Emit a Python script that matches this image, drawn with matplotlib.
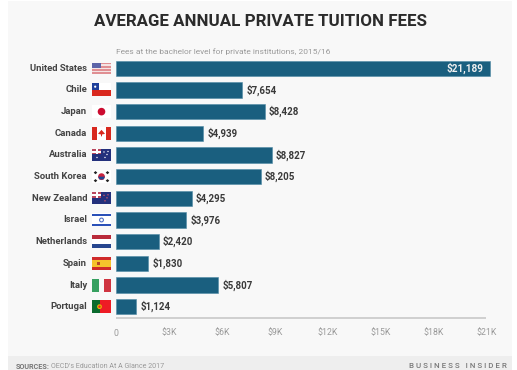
import matplotlib
matplotlib.use("Agg")
import matplotlib.pyplot as plt
from matplotlib.patches import Rectangle, Circle, Polygon

plt.rcParams['font.family'] = ['Roboto', 'DejaVu Sans']

countries = ["United States", "Chile", "Japan", "Canada", "Australia", "South Korea",
             "New Zealand", "Israel", "Netherlands", "Spain", "Italy", "Portugal"]
# printed value labels
fees = [21189, 7654, 8428, 4939, 8827, 8205, 4295, 3976, 2420, 1830, 5807, 1124]
# bar lengths as drawn in the picture (the Chile bar is shorter than its printed label)
bar_lengths = [21189, 7150, 8428, 4939, 8827, 8205, 4295, 3976, 2420, 1830, 5807, 1150]
tick_values = [0, 3000, 6000, 9000, 12000, 15000, 18000, 21000]
tick_labels = ["0", "$3K", "$6K", "$9K", "$12K", "$15K", "$18K", "$21K"]
title = "AVERAGE ANNUAL PRIVATE TUITION FEES"
subtitle = "Fees at the bachelor level for private institutions, 2015/16"

W, H = 517, 370
BAR = "#1a5f7f"
fig = plt.figure(figsize=(W / 100, H / 100), dpi=100, facecolor="white")

# page in pixel coordinates
pg = fig.add_axes([0, 0, 1, 1], zorder=0)
pg.set_xlim(0, W)
pg.set_ylim(H, 0)
pg.axis("off")
pg.add_patch(Rectangle((8, 1), 504, 355, fc="#f8f8f8", ec="none"))
pg.add_patch(Rectangle((8, 356), 504, 14, fc="#eeeeee", ec="none"))
pg.text(261, 22, title, ha="center", va="center", fontsize=12.2, fontweight="bold", color="#2b2b2b")
pg.text(116, 52, subtitle, ha="left", va="center", fontsize=6.05, color="#9a9a9a")
pg.text(16, 367, "SOURCES:", ha="left", va="center", fontsize=5.2, fontweight="bold", color="#777777")
pg.text(51, 367, "OECD's Education At A Glance 2017", ha="left", va="center", fontsize=5.15, color="#999999")
pg.text(507, 366.5, "B U S I N E S S   I N S I D E R", ha="right", va="center",
        fontsize=5.7, fontweight="medium", color="#777777")

# chart axes: 0 at x=116, 21000 at x=486.4; rows 21.67 px apart starting y=68.3
x0, xs = 116, 370.4 / 21000
top, pitch = 68.3, 21.67
ax_l, ax_r = 116, 505
ax_t, ax_b = top - pitch / 2, top + pitch * 11.5
ax = fig.add_axes([ax_l / W, 1 - ax_b / H, (ax_r - ax_l) / W, (ax_b - ax_t) / H], zorder=1)
ax.patch.set_alpha(0)
ax.set_xlim(0, (ax_r - x0) / xs)
ax.set_ylim(len(countries) - 0.5, -0.5)
ax.barh(range(len(countries)), bar_lengths, height=15.5 / pitch, color=BAR, edgecolor="#4f89a5", linewidth=0.4)
for s in ax.spines.values():
    s.set_visible(False)
ax.set_yticks([])
ax.set_xticks(tick_values, tick_labels)
ax.tick_params(axis="x", length=0, pad=8, labelsize=6.3, labelcolor="#9a9a9a")
ax.plot([0, 21000], [11.5, 11.5], color="#c8c8c8", lw=1.2, clip_on=False, solid_capstyle="butt")

for i, (c, v, b) in enumerate(zip(countries, fees, bar_lengths)):
    label = f"${v:,}"
    if v > 20000:
        ax.text(b - 350, i, label, ha="right", va="center", fontsize=7.2, fontweight="bold", color="#f0f0f0")
    else:
        ax.text(b + 230, i, label, ha="left", va="center", fontsize=7, fontweight="bold", color="#3a3a3a")
    pg.text(87, top + i * pitch, c, ha="right", va="center", fontsize=6.8, fontweight="bold", color="#444444")


def rect(x, y, w, h, c):
    pg.add_patch(Rectangle((x, y), w, h, fc=c, ec="none", zorder=3))


def flag(name, cy):
    L, T, w, h = 92, cy - 6.5, 19, 13
    Bl, Wh = "#27357e", "#ffffff"
    if name == "United States":
        T += 1
        h = 11
        for k in range(7):
            rect(L, T + k * h / 7, w, h / 7, "#e08f93" if k % 2 == 0 else "#f4e4e4")
        rect(L, T, 8.5, 5.5, "#5c64a8")
    elif name == "Chile":
        rect(L, T, w, 6.5, Wh)
        rect(L, T + 6.5, w, 6.5, "#d9281e")
        rect(L, T, 6.5, 6.5, "#1e3f9a")
        pg.add_patch(Circle((L + 3.2, T + 3.2), 1.1, fc=Wh, ec="none", zorder=4))
    elif name == "Japan":
        rect(L, T, w, h, Wh)
        pg.add_patch(Circle((L + w / 2, cy), 3.8, fc="#cc0b2f", ec="none", zorder=4))
    elif name == "Canada":
        rect(L, T, w, h, Wh)
        rect(L, T, 5, h, "#d8281e")
        rect(L + w - 5, T, 5, h, "#d8281e")
        pg.add_patch(Polygon([(L + 9.5, cy - 3.5), (L + 13, cy + .5), (L + 10, cy + 1.2), (L + 10, cy + 3),
                              (L + 9, cy + 3), (L + 9, cy + 1.2), (L + 6, cy + .5)],
                             fc="#d8281e", ec="none", zorder=4))
    elif name in ("Australia", "New Zealand"):
        rect(L, T + 0.5, w, h - 1, "#23307c")
        rect(L, T + 0.5, 9, 5.5, "#b9475f")
        rect(L + 3.5, T + 0.5, 2, 5.5, Wh)
        rect(L, T + 2.5, 9, 1.6, Wh)
        for dx, dy in [(12, 3.5), (15, 6), (13, 9), (16, 3)] + ([(5, 9)] if name == "Australia" else []):
            pg.add_patch(Circle((L + dx, T + dy), 0.7, fc=Wh if name == "Australia" else "#e05a66", ec="none", zorder=4))
    elif name == "South Korea":
        rect(L, T, w, h, Wh)
        pg.add_patch(Circle((L + w / 2, cy), 3.4, fc="#c9243f", ec="none", zorder=4))
        pg.add_patch(Polygon([(L + w / 2 - 3.4, cy), (L + w / 2 + 3.4, cy), (L + w / 2 + 2, cy + 2.8),
                              (L + w / 2 - 2, cy + 2.8)], fc="#1f4a94", ec="none", zorder=5))
        for dx, dy in [(-6, -4), (6, -4), (-6, 4), (6, 4)]:
            pg.add_patch(Polygon([(L + w / 2 + dx - 1.8, cy + dy), (L + w / 2 + dx, cy + dy - 1.6),
                                  (L + w / 2 + dx + 1.8, cy + dy), (L + w / 2 + dx, cy + dy + 1.6)],
                                 fc="#222222", ec="none", zorder=4))
    elif name == "Israel":
        rect(L, T, w, h, Wh)
        rect(L, T + 0.5, w, 1.8, "#2a50b8")
        rect(L, T + h - 2.3, w, 1.8, "#2a50b8")
        pg.add_patch(Circle((L + w / 2, cy), 1.9, fc="none", ec="#4f6fc4", lw=0.8, zorder=4))
    elif name == "Netherlands":
        rect(L, T, w, h / 3, "#b92a3a")
        rect(L, T + h / 3, w, h / 3, Wh)
        rect(L, T + 2 * h / 3, w, h / 3, "#27468f")
    elif name == "Spain":
        rect(L, T, w, h, "#cf2a2a")
        rect(L, T + 3.2, w, 6.6, "#f5c32c")
        rect(L + 5, cy - 1.7, 3, 3.4, "#b5472a")
    elif name == "Italy":
        rect(L, T, 6.8, h, "#37a060")
        rect(L + 6.8, T, 5.4, h, "#f8f8f8")
        rect(L + 12.2, T, 6.8, h, "#cf3440")
    elif name == "Portugal":
        rect(L, T, 7.5, h, "#0b6b2e")
        rect(L + 7.5, T, 11.5, h, "#ee1c25")
        pg.add_patch(Circle((L + 7.5, cy), 2.4, fc="#e6b800", ec="none", zorder=4))
        pg.add_patch(Circle((L + 7.5, cy), 1.2, fc="#ee1c25", ec="none", zorder=5))


for i, c in enumerate(countries):
    flag(c, top + i * pitch)

fig.savefig("out.png", dpi=100, facecolor=fig.get_facecolor())
